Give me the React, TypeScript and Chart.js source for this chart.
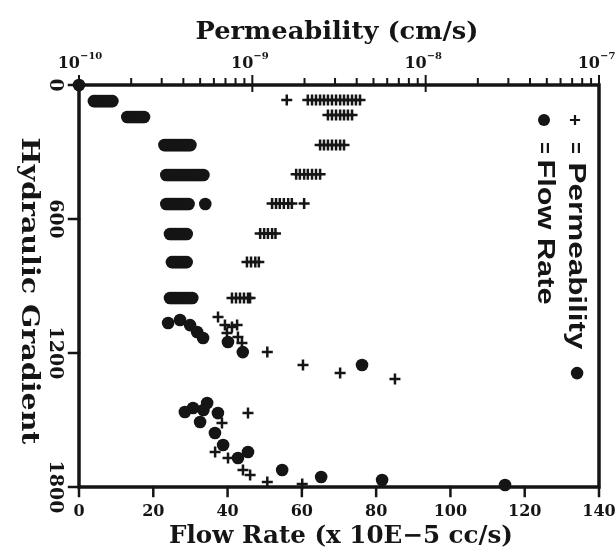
import React, { useEffect, useRef } from "react";
import { Chart, registerables } from "chart.js";

Chart.register(...registerables);

// ---- Flow rate (x 10E-5 cc/s) ----
// constant-gradient steps (gradient level -> flow readings at that level)
const flowLevels = [72, 143, 269, 403, 533, 667, 793, 954];
const flowAtLevels = [
  [4, 4.5, 5, 5.5, 6, 6.5, 7, 7.5, 8, 8.5, 9],
  [13, 13.5, 14, 14.5, 15, 15.5, 16, 16.5, 17, 17.5],
  [23, 23.5, 24, 24.5, 25, 25.5, 26, 26.5, 27, 27.5, 28, 28.5, 29, 29.5, 30],
  [23.5, 24, 24.5, 25, 25.5, 26, 26.5, 27, 27.5, 28, 28.5, 29, 29.5, 30, 30.5, 31, 31.5, 32, 32.5, 33, 33.5],
  [23.5, 24, 24.5, 25, 25.5, 26, 26.5, 27, 27.5, 28, 28.5, 29, 29.5, 34],
  [24.5, 25, 25.5, 26, 26.5, 27, 27.5, 28, 28.5, 29],
  [25, 25.5, 26, 26.5, 27, 27.5, 28, 28.5, 29],
  [24.5, 25, 25.5, 26, 26.5, 27, 27.5, 28, 28.5, 29, 29.5, 30, 30.5],
];
// individual readings
const flowRate = [
  0,
  24.0, 27.2, 29.9, 31.8, 33.4, 40.1, 44.1, 76.2, 134.1,
  28.5, 30.7, 34.5, 37.4, 32.6, 33.5, 36.6, 38.8, 42.8, 45.5, 54.7, 65.2, 81.6, 114.7,
];
const flowGradient = [
  0,
  1066, 1052, 1075, 1106, 1133, 1151, 1196, 1254, 1290,
  1464, 1446, 1424, 1469, 1509, 1455, 1558, 1612, 1670, 1643, 1724, 1755, 1769, 1791,
];

// ---- Permeability (cm/s) ----
const permLevels = [67, 134, 269, 400, 531, 665, 793, 954];
const permAtLevels = [
  [1.58e-9, 2.09e-9, 2.21e-9, 2.33e-9, 2.46e-9, 2.59e-9, 2.73e-9, 2.88e-9, 3.04e-9, 3.21e-9, 3.38e-9, 3.56e-9, 3.76e-9, 3.96e-9, 4.18e-9],
  [2.73e-9, 2.88e-9, 3.04e-9, 3.21e-9, 3.38e-9, 3.56e-9, 3.76e-9],
  [2.46e-9, 2.59e-9, 2.73e-9, 2.88e-9, 3.04e-9, 3.21e-9, 3.38e-9],
  [1.79e-9, 1.88e-9, 1.99e-9, 2.09e-9, 2.21e-9, 2.33e-9, 2.46e-9],
  [1.30e-9, 1.37e-9, 1.44e-9, 1.52e-9, 1.61e-9, 1.69e-9, 1.99e-9],
  [1.11e-9, 1.17e-9, 1.23e-9, 1.30e-9, 1.36e-9],
  [9.31e-10, 9.83e-10, 1.04e-9, 1.09e-9],
  [7.63e-10, 8.05e-10, 8.49e-10, 8.95e-10, 9.44e-10, 9.70e-10],
];
const permeability = [
  6.34e-10, 6.95e-10, 7.63e-10, 8.17e-10, 7.14e-10, 8.26e-10, 8.71e-10, 1.22e-9, 1.96e-9, 3.21e-9, 6.65e-9,
  9.44e-10, 6.68e-10, 6.10e-10, 7.24e-10, 8.83e-10, 9.71e-10, 1.22e-9, 1.94e-9,
];
const permGradient = [
  1039, 1075, 1084, 1075, 1111, 1128, 1155, 1196, 1254, 1290, 1316,
  1469, 1513, 1643, 1670, 1724, 1746, 1778, 1787,
];

// ---- axes ----
const flowTicks = [0, 20, 40, 60, 80, 100, 120, 140];
const gradientTicks = [0, 600, 1200, 1800];
const permDecades = [-10, -9, -8, -7];

const INK = "#151515";
const SERIF = '"DejaVu Serif", "Liberation Serif", serif';
const SANS = '"Liberation Sans", "DejaVu Sans", sans-serif';

function fitText(
  ctx: CanvasRenderingContext2D,
  text: string,
  x: number,
  y: number,
  font: string,
  width: number,
  angle: number
) {
  ctx.save();
  ctx.font = font;
  ctx.translate(x, y);
  ctx.rotate(angle);
  const w = ctx.measureText(text).width;
  ctx.scale(width / w, 1);
  ctx.textAlign = "center";
  ctx.textBaseline = "middle";
  ctx.fillText(text, 0, 0);
  ctx.restore();
}

function rotText(
  ctx: CanvasRenderingContext2D,
  text: string,
  x: number,
  y: number,
  font: string,
  angle: number
) {
  ctx.save();
  ctx.font = font;
  ctx.translate(x, y);
  ctx.rotate(angle);
  ctx.textAlign = "center";
  ctx.textBaseline = "middle";
  ctx.fillText(text, 0, 0);
  ctx.restore();
}

const paperAxes = {
  id: "paperAxes",
  beforeDatasetsDraw(chart: any) {
    const ctx: CanvasRenderingContext2D = chart.ctx;
    const { left, right, top, bottom } = chart.chartArea;
    const xs = chart.scales.x;
    const x2 = chart.scales.x2;
    const ys = chart.scales.y;
    ctx.save();
    ctx.strokeStyle = INK;
    ctx.fillStyle = INK;
    ctx.lineCap = "square";

    // frame
    ctx.lineWidth = 3.5;
    ctx.beginPath();
    ctx.moveTo(left, top);
    ctx.lineTo(right, top);
    ctx.lineTo(right, bottom);
    ctx.lineTo(left, bottom);
    ctx.closePath();
    ctx.stroke();

    // bottom ticks + labels
    ctx.lineWidth = 2.5;
    ctx.font = `bold 16px ${SERIF}`;
    ctx.textAlign = "center";
    ctx.textBaseline = "middle";
    for (const v of flowTicks) {
      const px = xs.getPixelForValue(v);
      ctx.beginPath();
      ctx.moveTo(px, bottom);
      ctx.lineTo(px, bottom + 9);
      ctx.stroke();
      ctx.fillText(String(v), px, 512);
    }

    // left ticks + rotated labels
    for (const g of gradientTicks) {
      const py = ys.getPixelForValue(g);
      ctx.beginPath();
      ctx.moveTo(left - 10, py);
      ctx.lineTo(left, py);
      ctx.stroke();
      rotText(ctx, String(g), 55, py, `bold 19px ${SERIF}`, Math.PI / 2);
    }

    // top log ticks
    ctx.lineWidth = 2;
    for (let i = 0; i < permDecades.length; i++) {
      const d = permDecades[i];
      const px = x2.getPixelForValue(Math.pow(10, d));
      ctx.beginPath();
      ctx.moveTo(px, top - 9);
      ctx.lineTo(px, top + 6);
      ctx.stroke();
      if (i < permDecades.length - 1) {
        for (let m = 2; m <= 9; m++) {
          const mx = x2.getPixelForValue(m * Math.pow(10, d));
          ctx.beginPath();
          ctx.moveTo(mx, top - 6);
          ctx.lineTo(mx, top);
          ctx.stroke();
        }
      }
      ctx.font = `bold 16px ${SERIF}`;
      ctx.textAlign = "right";
      ctx.textBaseline = "alphabetic";
      ctx.fillText("10", px + 1, 68);
      ctx.font = `bold 10px ${SERIF}`;
      ctx.textAlign = "left";
      ctx.fillText("\u2212" + Math.abs(d), px + 1, 59);
    }

    // titles
    fitText(ctx, "Permeability (cm/s)", 337, 33, `bold 24px ${SERIF}`, 283, 0);
    fitText(ctx, "Flow Rate (x 10E\u22125 cc/s)", 341, 537, `bold 24px ${SERIF}`, 344, 0);
    fitText(ctx, "Hydraulic Gradient", 28, 291, `bold 24px ${SERIF}`, 307, Math.PI / 2);

    // legend (rotated)
    ctx.lineWidth = 2.2;
    ctx.beginPath();
    ctx.moveTo(571, 120);
    ctx.lineTo(579, 120);
    ctx.moveTo(575, 116);
    ctx.lineTo(575, 124);
    ctx.stroke();
    rotText(ctx, "=", 575, 148, `bold 20px ${SANS}`, Math.PI / 2);
    fitText(ctx, "Permeability", 575, 256, `bold 23px ${SANS}`, 187, Math.PI / 2);
    ctx.beginPath();
    ctx.arc(544, 120, 6, 0, Math.PI * 2);
    ctx.fill();
    rotText(ctx, "=", 544, 148, `bold 20px ${SANS}`, Math.PI / 2);
    fitText(ctx, "Flow Rate", 544, 232, `bold 23px ${SANS}`, 145, Math.PI / 2);

    ctx.restore();
  },
};

export default function App() {
  const ref = useRef<HTMLCanvasElement>(null);
  useEffect(() => {
    const canvas = ref.current!;
    const flowData: { x: number; y: number }[] = [];
    flowLevels.forEach((g, r) => flowAtLevels[r].forEach((v) => flowData.push({ x: v, y: g })));
    flowRate.forEach((v, i) => flowData.push({ x: v, y: flowGradient[i] }));
    const permData: { x: number; y: number }[] = [];
    permLevels.forEach((g, r) => permAtLevels[r].forEach((k) => permData.push({ x: k, y: g })));
    permeability.forEach((k, i) => permData.push({ x: k, y: permGradient[i] }));

    const chart = new Chart(canvas, {
      type: "scatter",
      data: {
        datasets: [
          {
            label: "Permeability",
            data: permData,
            xAxisID: "x2",
            yAxisID: "y",
            pointStyle: "cross",
            pointRadius: 5.5,
            pointHoverRadius: 5.5,
            borderColor: INK,
            backgroundColor: INK,
            pointBorderWidth: 2.5,
            clip: false,
          } as any,
          {
            label: "Flow Rate",
            data: flowData,
            xAxisID: "x",
            yAxisID: "y",
            pointStyle: "circle",
            pointRadius: 6.3,
            pointHoverRadius: 6.3,
            backgroundColor: INK,
            borderColor: INK,
            pointBorderWidth: 0,
            clip: false,
          } as any,
        ],
      },
      options: {
        animation: false,
        responsive: false,
        devicePixelRatio: 1,
        events: [],
        layout: { padding: { left: 79, right: 17, top: 85, bottom: 71 } },
        plugins: {
          legend: { display: false },
          tooltip: { enabled: false },
        },
        scales: {
          x: { type: "linear", min: 0, max: 140, display: false },
          x2: { type: "logarithmic", min: 1e-10, max: 1e-7, display: false, position: "top" },
          y: { type: "linear", min: 0, max: 1800, reverse: true, display: false },
        },
      },
      plugins: [paperAxes],
    });
    return () => chart.destroy();
  }, []);
  return (
    <div style={{ position: "fixed", left: 0, top: 0, width: 616, height: 558, background: "#fff" }}>
      <canvas ref={ref} width={616} height={558} style={{ display: "block", width: 616, height: 558 }} />
    </div>
  );
}
